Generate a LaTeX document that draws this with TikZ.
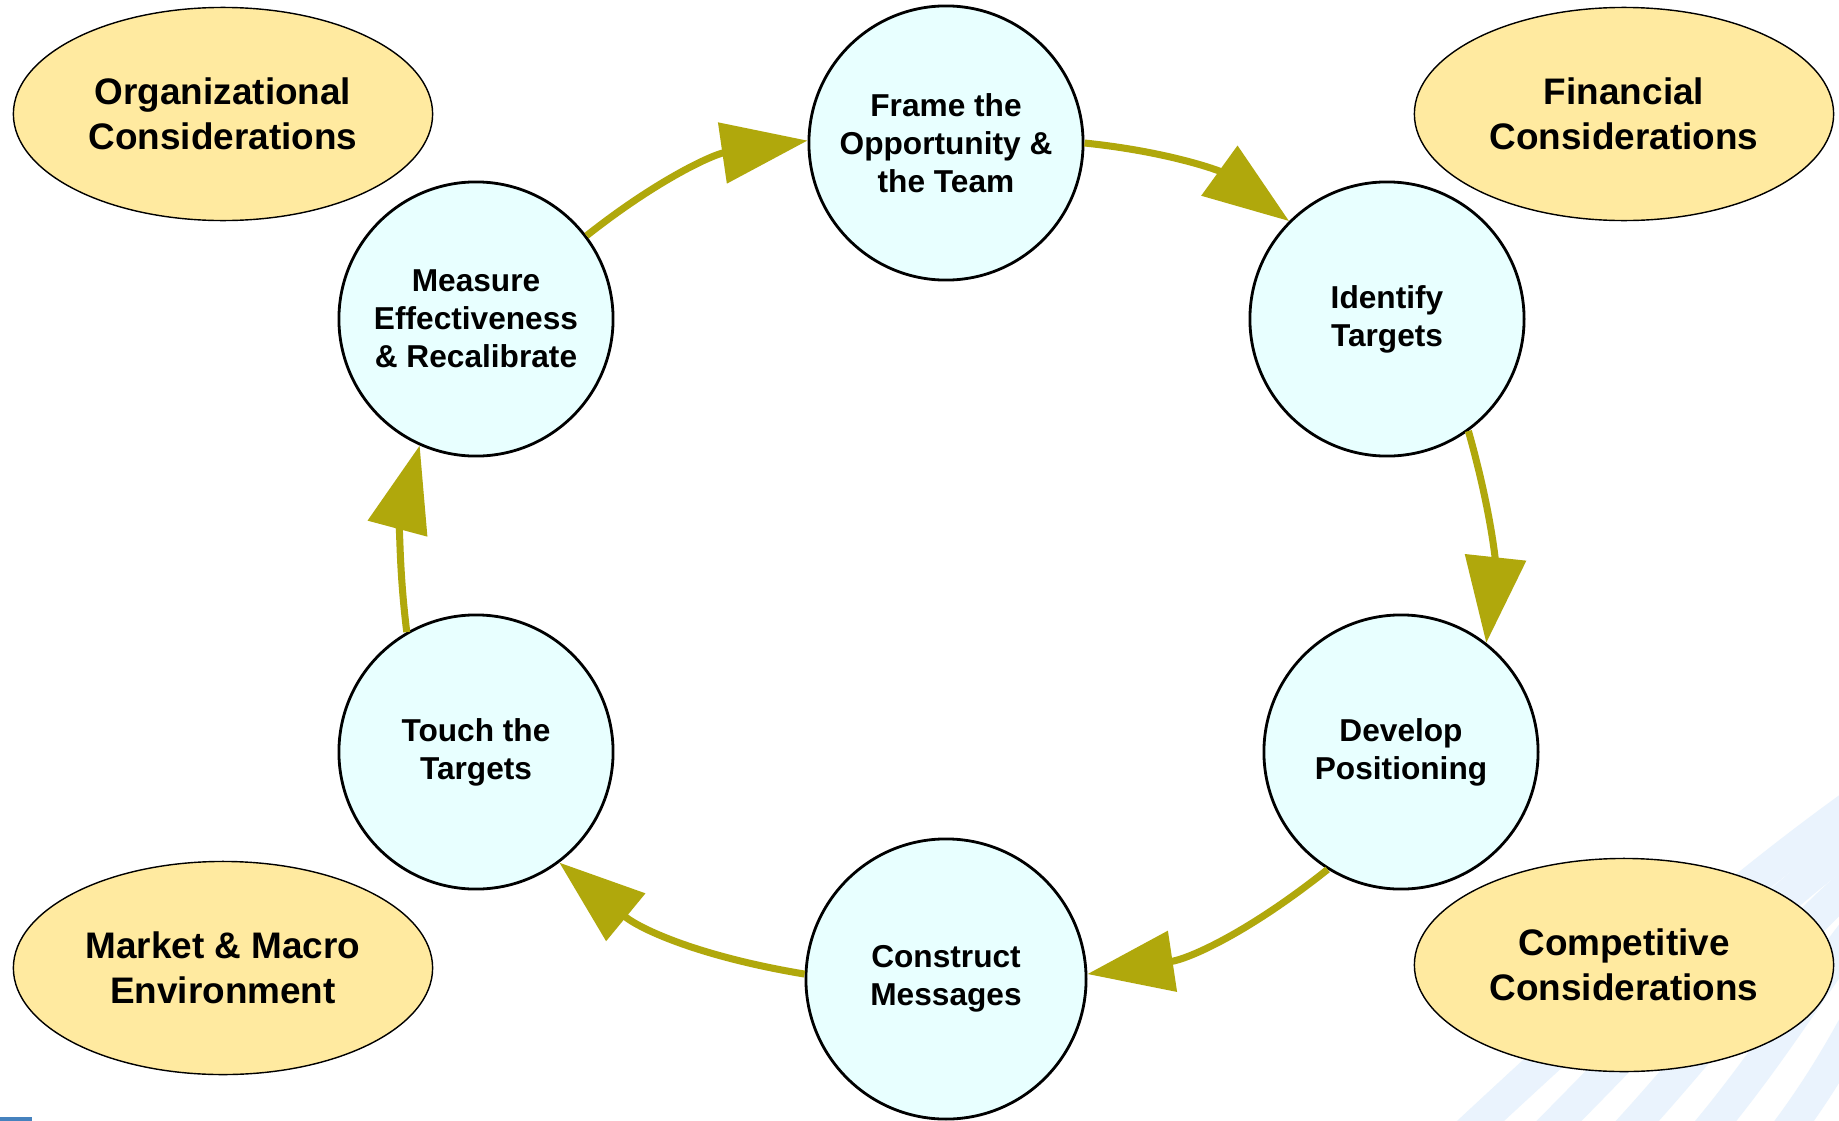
\documentclass[tikz,border=0pt]{standalone}
\usepackage{fontspec}
\setmainfont{Liberation Sans}
\usetikzlibrary{shapes.geometric,arrows.meta}
\definecolor{stagefill}{RGB}{232,255,255}
\definecolor{factorfill}{RGB}{255,234,160}
\definecolor{flowolive}{RGB}{176,168,12}
\definecolor{stripeblue}{RGB}{234,243,253}
\definecolor{logoblue}{RGB}{70,130,190}

\begin{document}
\begin{tikzpicture}[x=0.01cm,y=-0.01cm,
    stage/.style={circle,draw=black,line width=0.8pt,fill=stagefill,minimum size=2.74cm,inner sep=0pt,align=center,font=\fontsize{9}{10.8}\selectfont\bfseries},
    factor/.style={ellipse,draw=black,line width=0.4pt,fill=factorfill,minimum width=4.19cm,minimum height=2.13cm,inner sep=0pt,align=center,font=\fontsize{10.5}{12.7}\selectfont\bfseries},
    flow/.style={draw=flowolive,line width=2pt,-{Triangle[length=0.86cm,width=0.6cm]}}]
    % Page
    \fill[white] (0,0) rectangle (1839,1121);
    \useasboundingbox (0,0) rectangle (1839,1121);

    % Background stripes
    \begin{scope}
        \clip (0,0) rectangle (1839,1121);
        \foreach \s in {0,...,4} {
            \draw[stripeblue,line width=0.32cm] (1460+80*\s,1140) .. controls (1600+70*\s,1010) and (1720+45*\s,900) .. (1860+20*\s,800+25*\s);
        }
    \end{scope}
    \fill[logoblue] (0,1117) rectangle (32,1121);

    % Outer factors
    \node[factor] (org) at (223,114) {Organizational\\Considerations};
    \node[factor] (fin) at (1624,114) {Financial\\Considerations};
    \node[factor] (market) at (223,968) {Market \& Macro\\Environment};
    \node[factor] (comp) at (1624,965) {Competitive\\Considerations};

    % Stages
    \node[stage] (frame) at (946,143) {Frame the\\Opportunity \&\\the Team};
    \node[stage] (identify) at (1387,319) {Identify\\Targets};
    \node[stage] (develop) at (1401,752) {Develop\\Positioning};
    \node[stage,minimum size=2.8cm] (construct) at (946,979) {Construct\\Messages};
    \node[stage] (touch) at (476,752) {Touch the\\Targets};
    \node[stage] (measure) at (476,319) {Measure\\Effectiveness\\\& Recalibrate};

    % Cycle
    \draw[flow] (measure.37) to[bend left=15] (frame.179);
    \draw[flow] (frame.0) to[bend left=15] (identify.135);
    \draw[flow] (identify.-54) to[bend left=11] (develop.52);
    \draw[flow] (develop.238) to[bend left=15] (construct.2);
    \draw[flow] (construct.178) to[bend left=15] (touch.-53);
    \draw[flow] (touch.120) to[bend left=11] (measure.246);
\end{tikzpicture}
\end{document}
